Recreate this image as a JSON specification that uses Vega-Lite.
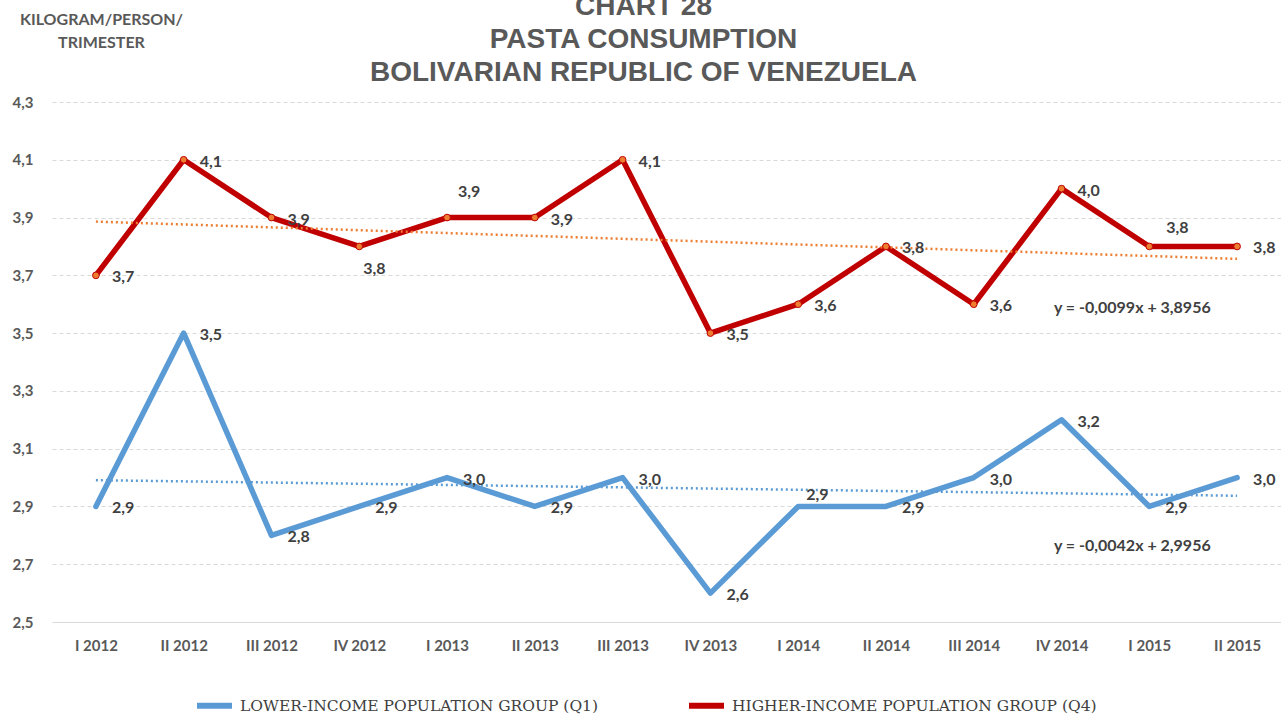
{
  "$schema": "https://vega.github.io/schema/vega-lite/v6.json",
  "autosize": {"type": "none"},
  "width": 1229,
  "height": 520,
  "padding": {"left": 52, "top": 102, "right": 0, "bottom": 93},
  "background": "white",
  "title": {
    "text": ["CHART 28", "PASTA CONSUMPTION", "BOLIVARIAN REPUBLIC OF VENEZUELA"],
    "font": "Liberation Sans",
    "fontSize": 28,
    "fontWeight": "bold",
    "color": "#595959",
    "lineHeight": 33,
    "anchor": "middle",
    "dx": -23,
    "offset": -76
  },
  "datasets": {
    "main": [
      {"q": "I 2012", "s": "LOWER-INCOME POPULATION GROUP (Q1)", "v": 2.9},
      {"q": "II 2012", "s": "LOWER-INCOME POPULATION GROUP (Q1)", "v": 3.5},
      {"q": "III 2012", "s": "LOWER-INCOME POPULATION GROUP (Q1)", "v": 2.8},
      {"q": "IV 2012", "s": "LOWER-INCOME POPULATION GROUP (Q1)", "v": 2.9},
      {"q": "I 2013", "s": "LOWER-INCOME POPULATION GROUP (Q1)", "v": 3.0},
      {"q": "II 2013", "s": "LOWER-INCOME POPULATION GROUP (Q1)", "v": 2.9},
      {"q": "III 2013", "s": "LOWER-INCOME POPULATION GROUP (Q1)", "v": 3.0},
      {"q": "IV 2013", "s": "LOWER-INCOME POPULATION GROUP (Q1)", "v": 2.6},
      {"q": "I 2014", "s": "LOWER-INCOME POPULATION GROUP (Q1)", "v": 2.9},
      {"q": "II 2014", "s": "LOWER-INCOME POPULATION GROUP (Q1)", "v": 2.9},
      {"q": "III 2014", "s": "LOWER-INCOME POPULATION GROUP (Q1)", "v": 3.0},
      {"q": "IV 2014", "s": "LOWER-INCOME POPULATION GROUP (Q1)", "v": 3.2},
      {"q": "I 2015", "s": "LOWER-INCOME POPULATION GROUP (Q1)", "v": 2.9},
      {"q": "II 2015", "s": "LOWER-INCOME POPULATION GROUP (Q1)", "v": 3.0},
      {"q": "I 2012", "s": "HIGHER-INCOME POPULATION GROUP (Q4)", "v": 3.7},
      {"q": "II 2012", "s": "HIGHER-INCOME POPULATION GROUP (Q4)", "v": 4.1},
      {"q": "III 2012", "s": "HIGHER-INCOME POPULATION GROUP (Q4)", "v": 3.9},
      {"q": "IV 2012", "s": "HIGHER-INCOME POPULATION GROUP (Q4)", "v": 3.8},
      {"q": "I 2013", "s": "HIGHER-INCOME POPULATION GROUP (Q4)", "v": 3.9},
      {"q": "II 2013", "s": "HIGHER-INCOME POPULATION GROUP (Q4)", "v": 3.9},
      {"q": "III 2013", "s": "HIGHER-INCOME POPULATION GROUP (Q4)", "v": 4.1},
      {"q": "IV 2013", "s": "HIGHER-INCOME POPULATION GROUP (Q4)", "v": 3.5},
      {"q": "I 2014", "s": "HIGHER-INCOME POPULATION GROUP (Q4)", "v": 3.6},
      {"q": "II 2014", "s": "HIGHER-INCOME POPULATION GROUP (Q4)", "v": 3.8},
      {"q": "III 2014", "s": "HIGHER-INCOME POPULATION GROUP (Q4)", "v": 3.6},
      {"q": "IV 2014", "s": "HIGHER-INCOME POPULATION GROUP (Q4)", "v": 4.0},
      {"q": "I 2015", "s": "HIGHER-INCOME POPULATION GROUP (Q4)", "v": 3.8},
      {"q": "II 2015", "s": "HIGHER-INCOME POPULATION GROUP (Q4)", "v": 3.8}
    ],
    "trend": [
      {"q": "I 2012", "s": "Q1", "v": 2.991},
      {"q": "II 2015", "s": "Q1", "v": 2.937},
      {"q": "I 2012", "s": "Q4", "v": 3.886},
      {"q": "II 2015", "s": "Q4", "v": 3.757}
    ],
    "eq": [
      {"q": "I 2015", "v": 3.587, "label": "y = -0,0099x + 3,8956"},
      {"q": "I 2015", "v": 2.763, "label": "y = -0,0042x + 2,9956"}
    ]
  },
  "encoding": {
    "x": {
      "field": "q",
      "type": "ordinal",
      "sort": ["I 2012", "II 2012", "III 2012", "IV 2012", "I 2013", "II 2013", "III 2013", "IV 2013", "I 2014", "II 2014", "III 2014", "IV 2014", "I 2015", "II 2015"],
      "scale": {"type": "point", "padding": 0.5},
      "axis": {
        "title": null,
        "labelAngle": 0,
        "labelFont": "Lato",
        "labelFontSize": 15,
        "labelFontWeight": "bold",
        "labelColor": "#595959",
        "labelPadding": 16,
        "ticks": false,
        "domain": false,
        "grid": false
      }
    },
    "y": {
      "field": "v",
      "type": "quantitative",
      "scale": {"domain": [2.5, 4.3], "nice": false, "zero": false},
      "axis": {
        "values": [2.5, 2.7, 2.9, 3.1, 3.3, 3.5, 3.7, 3.9, 4.1, 4.3],
        "format": ".1f",
        "labelFont": "Lato",
        "labelFontSize": 15,
        "labelFontWeight": "bold",
        "labelColor": "#595959",
        "labelPadding": 19,
        "ticks": false,
        "domain": false,
        "grid": true,
        "gridColor": "#D9D9D9",
        "gridWidth": 1,
        "gridDash": {"condition": {"test": "datum.value === 2.5", "value": []}, "value": [4, 3]},
        "title": ["KILOGRAM/PERSON/", "TRIMESTER"],
        "titleAngle": 0,
        "titleAlign": "center",
        "titleBaseline": "top",
        "titleX": 49,
        "titleY": -91,
        "titleFont": "Lato",
        "titleFontSize": 16,
        "titleFontWeight": "bold",
        "titleColor": "#595959",
        "titleLineHeight": 23
      }
    }
  },
  "layer": [
    {
      "data": {"name": "main"},
      "mark": {"type": "line", "strokeWidth": 5.5, "strokeCap": "round", "strokeJoin": "round"},
      "encoding": {
        "color": {
          "field": "s",
          "type": "nominal",
          "scale": {
            "domain": ["LOWER-INCOME POPULATION GROUP (Q1)", "HIGHER-INCOME POPULATION GROUP (Q4)"],
            "range": ["#5B9BD5", "#C00000"]
          },
          "legend": {
            "title": null,
            "orient": "none",
            "legendX": 142,
            "legendY": 583,
            "direction": "horizontal",
            "columns": 2,
            "columnPadding": 78,
            "symbolType": "stroke",
            "symbolSize": 1225,
            "symbolStrokeWidth": 6,
            "labelFont": "DejaVu Serif",
            "labelFontSize": 15.5,
            "labelColor": "#404040",
            "labelLimit": 600,
            "labelOffset": 5
          }
        }
      }
    },
    {
      "data": {"name": "trend"},
      "transform": [{"filter": "datum.s == 'Q1'"}],
      "mark": {"type": "line", "color": "#5B9BD5", "strokeWidth": 2.5, "strokeDash": [2, 3]}
    },
    {
      "data": {"name": "trend"},
      "transform": [{"filter": "datum.s == 'Q4'"}],
      "mark": {"type": "line", "color": "#ED7D31", "strokeWidth": 2.5, "strokeDash": [2, 3]}
    },
    {
      "data": {"name": "main"},
      "transform": [{"filter": "indexof(datum.s, 'Q4') >= 0"}],
      "mark": {"type": "point", "shape": "circle", "filled": true, "fill": "#ED7D31", "stroke": "#C00000", "strokeWidth": 1, "size": 45, "opacity": 1}
    },
    {
      "data": {"name": "main"},
      "transform": [{"filter": "!((indexof(datum.s, 'Q4') >= 0 && (datum.q == 'IV 2012' || datum.q == 'I 2013' || datum.q == 'I 2015')) || (indexof(datum.s, 'Q1') >= 0 && datum.q == 'I 2014'))"}],
      "mark": {"type": "text", "align": "left", "baseline": "middle", "dx": 16, "dy": 2, "font": "Lato", "fontSize": 16, "fontWeight": "bold", "color": "#404040"},
      "encoding": {"text": {"field": "v", "type": "quantitative", "format": ".1f"}}
    },
    {
      "data": {"name": "main"},
      "transform": [{"filter": "indexof(datum.s, 'Q4') >= 0 && datum.q == 'IV 2012'"}],
      "mark": {"type": "text", "align": "left", "baseline": "middle", "dx": 4, "dy": 23, "font": "Lato", "fontSize": 16, "fontWeight": "bold", "color": "#404040"},
      "encoding": {"text": {"field": "v", "type": "quantitative", "format": ".1f"}}
    },
    {
      "data": {"name": "main"},
      "transform": [{"filter": "indexof(datum.s, 'Q4') >= 0 && datum.q == 'I 2013'"}],
      "mark": {"type": "text", "align": "left", "baseline": "middle", "dx": 11, "dy": -26, "font": "Lato", "fontSize": 16, "fontWeight": "bold", "color": "#404040"},
      "encoding": {"text": {"field": "v", "type": "quantitative", "format": ".1f"}}
    },
    {
      "data": {"name": "main"},
      "transform": [{"filter": "indexof(datum.s, 'Q4') >= 0 && datum.q == 'I 2015'"}],
      "mark": {"type": "text", "align": "left", "baseline": "middle", "dx": 17, "dy": -18, "font": "Lato", "fontSize": 16, "fontWeight": "bold", "color": "#404040"},
      "encoding": {"text": {"field": "v", "type": "quantitative", "format": ".1f"}}
    },
    {
      "data": {"name": "main"},
      "transform": [{"filter": "indexof(datum.s, 'Q1') >= 0 && datum.q == 'I 2014'"}],
      "mark": {"type": "text", "align": "left", "baseline": "middle", "dx": 8, "dy": -11, "font": "Lato", "fontSize": 16, "fontWeight": "bold", "color": "#404040"},
      "encoding": {"text": {"field": "v", "type": "quantitative", "format": ".1f"}}
    },
    {
      "data": {"name": "eq"},
      "mark": {"type": "text", "align": "center", "baseline": "middle", "dx": -17, "font": "Lato", "fontSize": 16, "fontWeight": "bold", "color": "#404040"},
      "encoding": {"text": {"field": "label", "type": "nominal"}}
    }
  ],
  "config": {
    "view": {"stroke": null},
    "locale": {"number": {"decimal": ",", "thousands": ".", "grouping": [3], "currency": ["", "€"]}}
  }
}
